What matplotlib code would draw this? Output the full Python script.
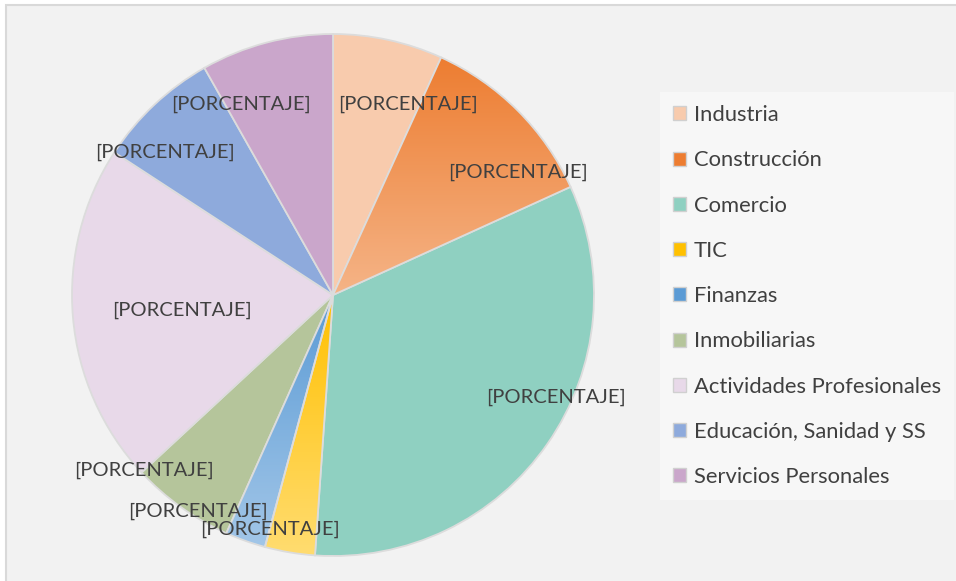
import matplotlib

matplotlib.use("Agg")
import matplotlib.pyplot as plt
import numpy as np
from matplotlib.colors import LinearSegmentedColormap
from matplotlib.patches import Patch, Rectangle

plt.rcParams["font.family"] = ["Lato", "DejaVu Sans"]

sectores = [
    "Industria",
    "Construcción",
    "Comercio",
    "TIC",
    "Finanzas",
    "Inmobiliarias",
    "Actividades Profesionales",
    "Educación, Sanidad y SS",
    "Servicios Personales",
]
porcentajes = [6.8, 11.4, 32.9, 3.1, 2.5, 6.4, 21.1, 7.6, 8.2]
colores = ["#f8cbad", "#f09b5e", "#8fd0c1", "#ffcf40", "#7eb0e0",
           "#b5c59b", "#e8d9e9", "#8eaadc", "#caa6cb"]
# gradient slices: (top colour, bottom colour)
gradientes = {
    "Construcción": ("#ed7d31", "#f5b487"),
    "TIC": ("#ffc000", "#ffdc70"),
    "Finanzas": ("#5b9bd5", "#a2c6e8"),
}
etiqueta = "[PORCENTAJE]"
# label centres in pie units (radius = 1), as placed in the original
label_xy = [(0.287, 0.732), (0.710, 0.471), (0.854, -0.391), (-0.241, -0.897),
            (-0.517, -0.828), (-0.724, -0.670), (-0.579, -0.057),
            (-0.644, 0.546), (-0.352, 0.732)]

W, H = 956, 581
fig = plt.figure(figsize=(W / 100, H / 100), dpi=100)
fig.patch.set_facecolor("white")
fig.patches.append(Rectangle((6 / W, -0.05), 1.1, 1.05 - 5 / H, transform=fig.transFigure,
                             facecolor="#f2f2f2", edgecolor="#d9d9d9", linewidth=1.5,
                             zorder=-10))

cx, cy, r = 333, 295, 261
lim = 1.3
ax = fig.add_axes([(cx - r * lim) / W, (H - cy - r * lim) / H, 2 * r * lim / W, 2 * r * lim / H])
ax.set_facecolor("none")
wedges, _ = ax.pie(porcentajes, colors=colores, startangle=90, counterclock=False,
                   wedgeprops=dict(edgecolor="#dcdcdc", linewidth=1.3))
ax.set_aspect("equal")
ax.axis("off")

for w, name in zip(wedges, sectores):
    if name in gradientes:
        top, bot = gradientes[name]
        cmap = LinearSegmentedColormap.from_list(name, [bot, top])
        path = w.get_path().transformed(w.get_patch_transform())
        x0, y0 = path.vertices.min(axis=0)
        x1, y1 = path.vertices.max(axis=0)
        grad = np.linspace(0, 1, 256).reshape(-1, 1)
        im = ax.imshow(grad, cmap=cmap, origin="lower", extent=(x0, x1, y0, y1),
                       aspect="auto", zorder=w.get_zorder() + 0.1, interpolation="bilinear")
        im.set_clip_path(w)
        w.set_facecolor("none")
        w.set_zorder(w.get_zorder() + 0.2)
ax.set_xlim(-lim, lim)
ax.set_ylim(-lim, lim)

for (lx, ly) in label_xy:
    ax.text(lx, ly, etiqueta, ha="center", va="center", fontsize=14.5,
            color="#404040", zorder=10, clip_on=False)

handles = [Patch(facecolor=(gradientes[n][0] if n in gradientes else c),
                 edgecolor="#d0d0d0", linewidth=1.0, label=n)
           for n, c in zip(sectores, colores)]
leg = fig.legend(handles=handles, loc="upper left", bbox_to_anchor=(660 / W, 1 - 92 / H),
                 frameon=True, fontsize=15.8, labelcolor="#404040", handlelength=0.6,
                 handleheight=0.6, handletextpad=0.35, labelspacing=1.15,
                 borderpad=0.6, borderaxespad=0, fancybox=False)
leg.get_frame().set_facecolor("#f9f9f9")
leg.get_frame().set_edgecolor("none")

fig.savefig("out.png", dpi=100)
